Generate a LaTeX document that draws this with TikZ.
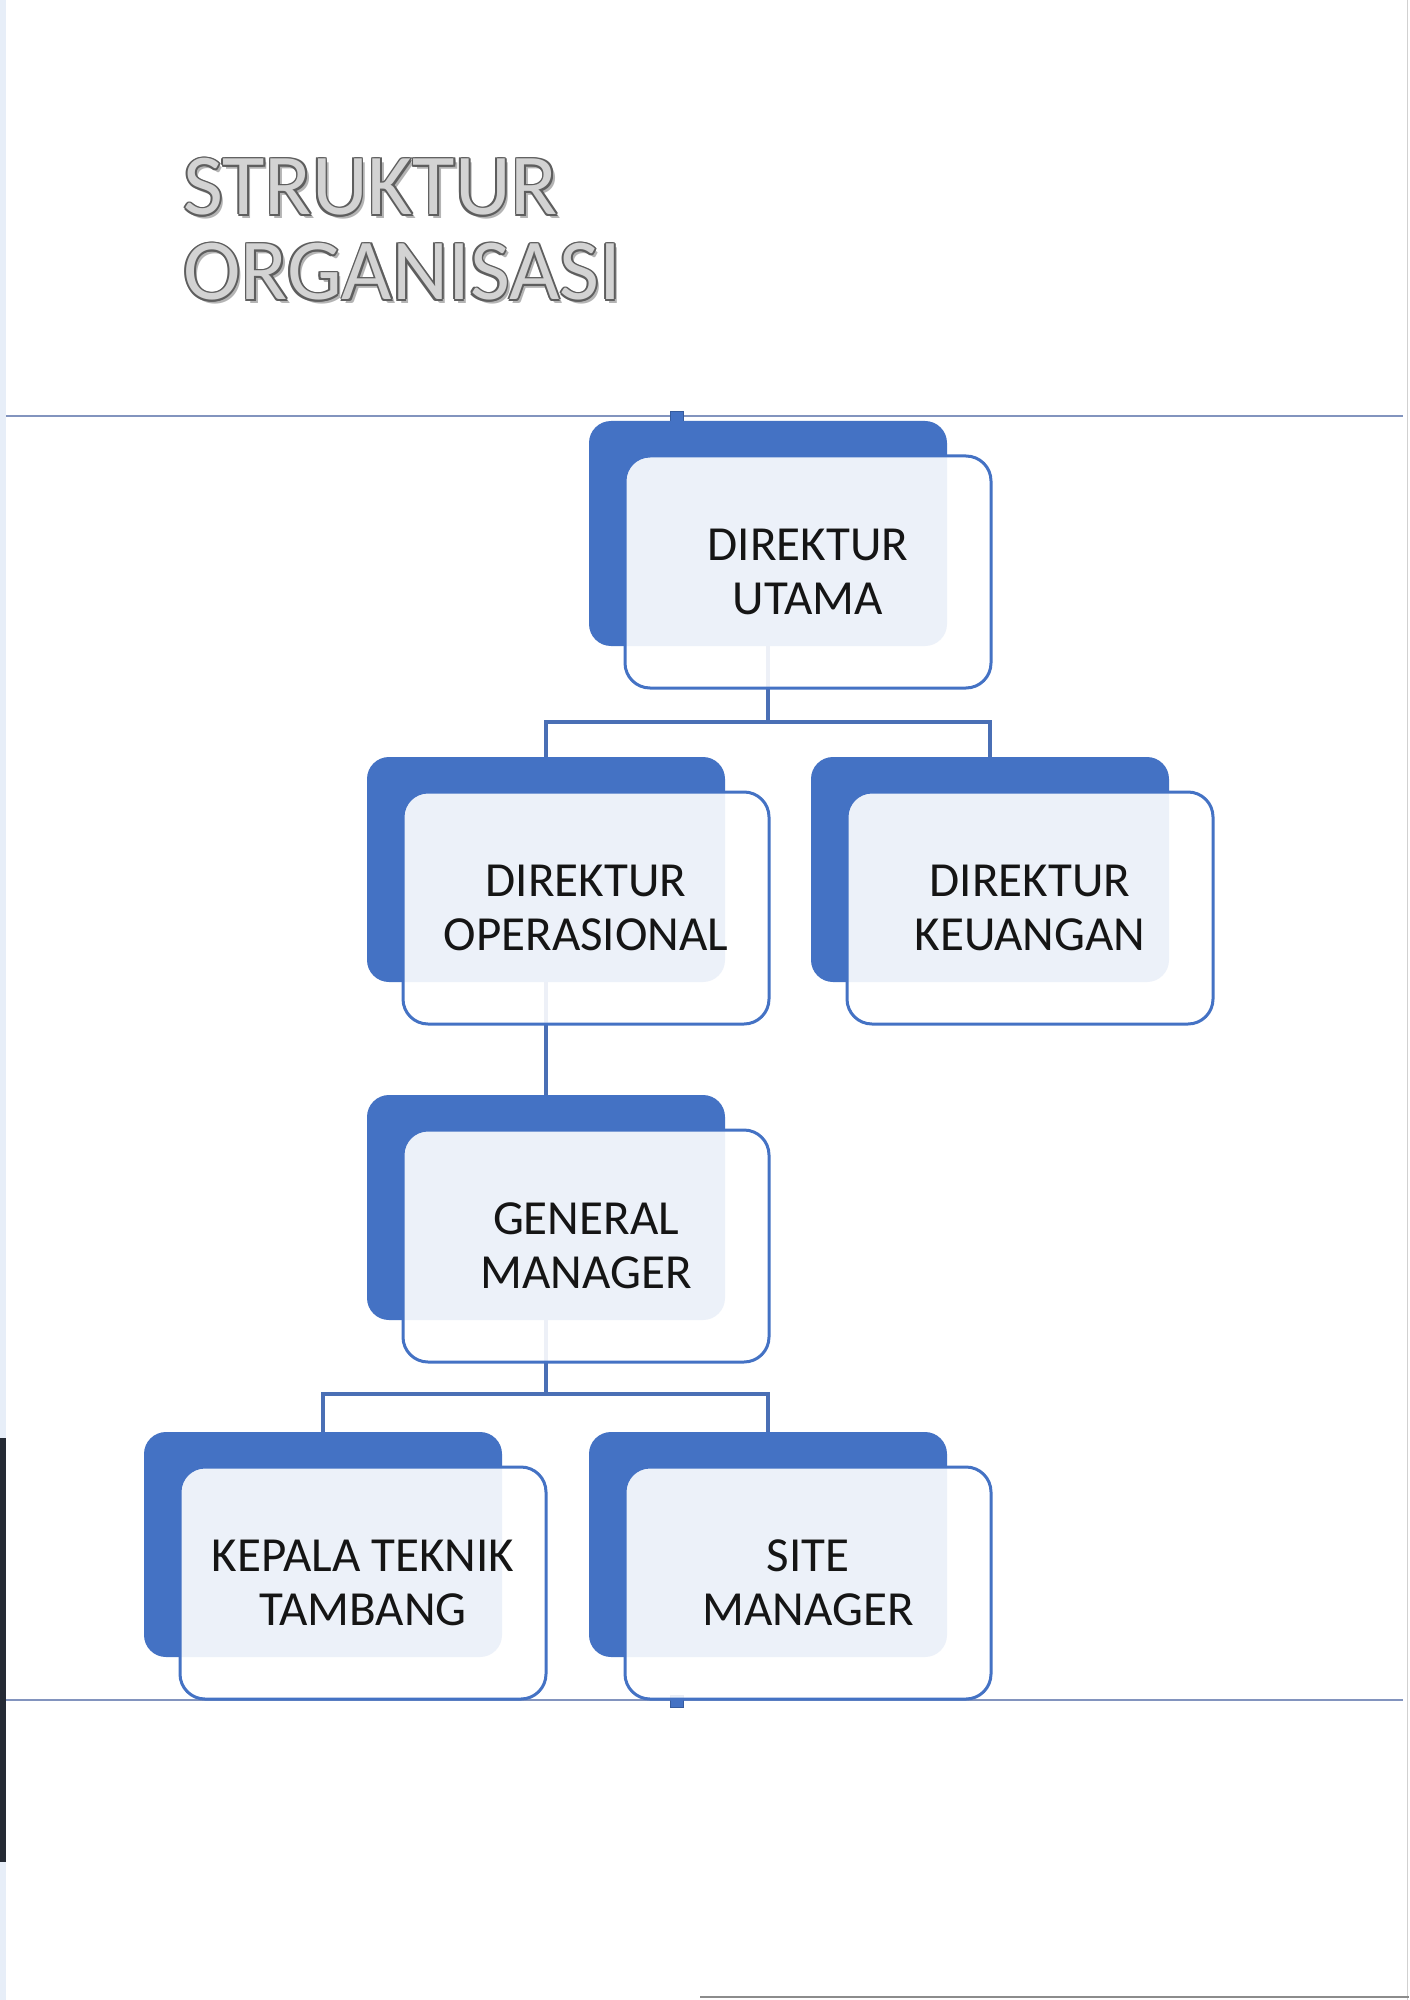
\documentclass[tikz,border=0pt]{standalone}
\usepackage{fontspec}
\setmainfont{Carlito}
\definecolor{boxblue}{HTML}{4472C4}
\definecolor{lineblue}{HTML}{4A6FB5}
\definecolor{pageline}{HTML}{8294BE}
\definecolor{edgeblue}{HTML}{E7EEF8}
\definecolor{darkbar}{HTML}{252A34}
\definecolor{boxtext}{HTML}{151515}
\definecolor{embdark}{HTML}{5E5E5E}
\definecolor{emblight}{HTML}{D3D3D3}
\definecolor{embshadow}{HTML}{B4B4B4}
\newcommand\embcopy[4]{\rlap{\kern#1\raisebox{#2}{\textcolor{#3}{#4}}}}
\newcommand\embtext[1]{%
 \embcopy{1.6pt}{-1.6pt}{embshadow}{#1}%
 \embcopy{-0.9pt}{0pt}{embdark}{#1}%
 \embcopy{0.9pt}{0pt}{embdark}{#1}%
 \embcopy{0pt}{0.9pt}{embdark}{#1}%
 \embcopy{0pt}{-0.9pt}{embdark}{#1}%
 \embcopy{0.65pt}{0.65pt}{embdark}{#1}%
 \embcopy{-0.65pt}{0.65pt}{embdark}{#1}%
 \embcopy{0.65pt}{-0.65pt}{embdark}{#1}%
 \embcopy{-0.65pt}{-0.65pt}{embdark}{#1}%
 \textcolor{emblight}{#1}}
\tikzset{
  backbox/.style={draw=none, fill=boxblue, rounded corners=11pt,
    minimum width=179pt, minimum height=112.5pt, inner sep=0pt},
  frontbox/.style={draw=boxblue, line width=1.5pt, fill=white, fill opacity=0.9,
    text opacity=1, rounded corners=12.5pt,
    minimum width=183pt, minimum height=116pt, inner sep=0pt,
    align=center, text=boxtext, font=\fontsize{24.5}{26.8}\selectfont},
  conn/.style={draw=lineblue, line width=1.7pt},
  titletext/.style={anchor=base west, inner sep=0pt, font=\fontsize{43.4}{43.4}\selectfont},
  pagerule/.style={draw=pageline, line width=1.2pt},
  handle/.style={fill=boxblue, draw=boxblue!80!black, line width=0.3pt}
}
\begin{document}
\begin{tikzpicture}[x=0.5pt,y=-0.5pt]
\useasboundingbox (0,0) rectangle (1409,2000);
\fill[white] (0,0) rectangle (1409,2000);
% page edges
\fill[edgeblue] (0,0) rectangle (6,2000);
\fill[darkbar] (0,1438) rectangle (6,1862);
\draw[black!18, line width=0.6pt] (1407.5,0) -- (1407.5,2000);
\draw[black!45, line width=1.4pt] (700,1997) -- (1409,1997);
% title
\node[titletext] (title1) at (183,215) {\embtext{STRUKTUR}};
\node[titletext] (title2) at (183,300) {\embtext{ORGANISASI}};
% frame rules
\draw[pagerule] (6,416) -- (1403,416);
\draw[pagerule] (6,1700) -- (1403,1700);
\fill[handle] (670,411) rectangle (683,421);
\fill[handle] (670,1695) rectangle (683,1707);
% back boxes
\node[backbox] (du-b)  at (768,533.5) {};
\node[backbox] (do-b)  at (546,869.5) {};
\node[backbox] (dk-b)  at (990,869.5) {};
\node[backbox] (gm-b)  at (546,1207.5) {};
\node[backbox] (ktt-b) at (323,1544.5) {};
\node[backbox] (sm-b)  at (768,1544.5) {};
% connectors
\coordinate (bar1) at (768,722);
\coordinate (bar2) at (546,1394);
\draw[conn] (du-b.south) -- (bar1);
\draw[conn] (do-b.north) |- (bar1) -| (dk-b.north);
\draw[conn] (do-b.south) -- (gm-b.north);
\draw[conn] (gm-b.south) -- (bar2);
\draw[conn] (ktt-b.north) |- (bar2) -| (sm-b.north);
% front boxes with text
\node[frontbox] (du)  at (808,572)  {DIREKTUR\\UTAMA};
\node[frontbox] (do)  at (586,908)  {DIREKTUR\\OPERASIONAL};
\node[frontbox] (dk)  at (1030,908) {DIREKTUR\\KEUANGAN};
\node[frontbox] (gm)  at (586,1246) {GENERAL\\MANAGER};
\node[frontbox] (ktt) at (363,1583) {KEPALA TEKNIK\\TAMBANG};
\node[frontbox] (sm)  at (808,1583) {SITE\\MANAGER};
\end{tikzpicture}
\end{document}
